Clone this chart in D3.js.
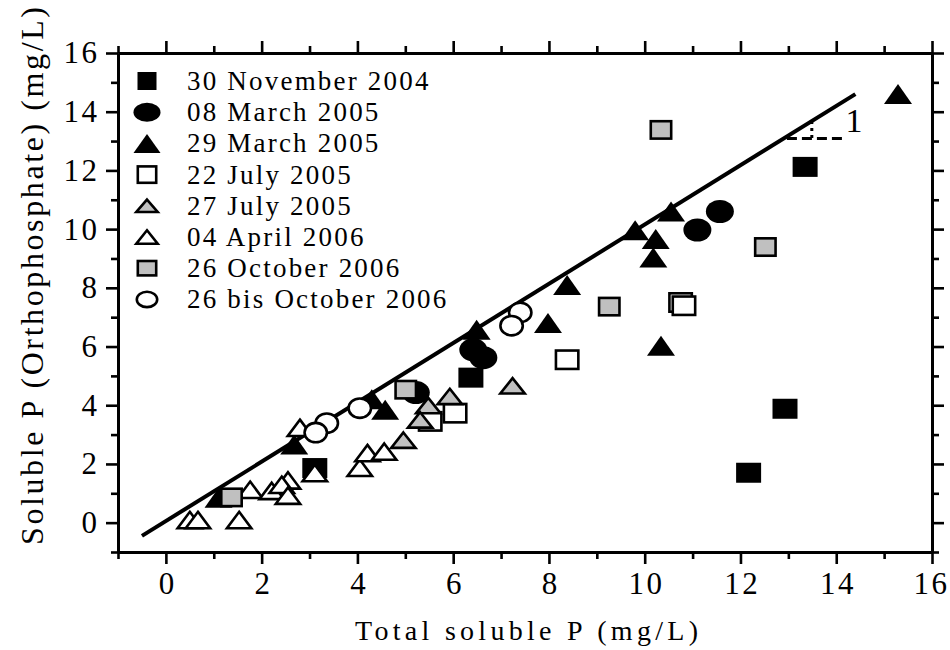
<!DOCTYPE html>
<html>
<head>
<meta charset="utf-8">
<script src="https://cdn.jsdelivr.net/npm/d3@7"></script>
<style>
  html, body { margin: 0; padding: 0; background: #fff; }
  svg { display: block; }
  text { font-family: "Liberation Serif", "Times New Roman", serif; fill: #000; }
</style>
</head>
<body>
<svg id="chart" width="950" height="650"></svg>
<script>
// ---------- data ----------
const seriesNames = ["30 November 2004", "08 March 2005", "29 March 2005", "22 July 2005",
                     "27 July 2005", "04 April 2006", "26 October 2006", "26 bis October 2006"];

const nov2004X = [13.35, 12.93, 12.17, 6.37, 3.11];
const nov2004Y = [12.12, 3.88, 1.70, 4.94, 1.86];

const mar08X = [11.57, 11.10, 6.42, 6.63, 5.22];
const mar08Y = [10.60, 9.97, 5.89, 5.62, 4.43];

const mar29X = [15.29, 10.55, 9.80, 10.23, 10.18, 10.34, 8.38, 7.98, 6.49, 4.58, 4.30, 2.68, 1.10];
const mar29Y = [14.60, 10.60, 9.96, 9.66, 9.03, 6.03, 8.10, 6.80, 6.57, 3.85, 4.20, 2.66, 0.85];

const jul22X = [10.75, 10.82, 8.38, 6.04, 5.52];
const jul22Y = [7.50, 7.39, 5.55, 3.73, 3.45];

const jul27X = [7.24, 5.93, 5.48, 5.31, 4.96];
const jul27Y = [4.66, 4.30, 3.99, 3.50, 2.81];

const apr2006X = [0.50, 0.67, 1.53, 1.76, 2.21, 2.55, 2.42, 2.55, 3.11, 2.80, 4.05, 4.21, 4.56];
const apr2006Y = [0.09, 0.09, 0.09, 1.12, 1.08, 1.44, 1.29, 0.92, 1.69, 3.23, 1.87, 2.37, 2.42];

const oct26X = [10.34, 12.52, 9.26, 5.01, 1.37];
const oct26Y = [13.38, 9.39, 7.36, 4.53, 0.86];

const oct26bisX = [7.40, 7.22, 4.05, 3.36, 3.13];
const oct26bisY = [7.16, 6.71, 3.90, 3.39, 3.07];

const fitLineX = [-0.5, 14.4];
const fitLineY = [-0.45, 14.6];

const slopeRunX = [12.97, 14.19];
const slopeRunY = 13.09;
const slopeRiseX = 13.49;
const slopeRiseY = [13.1, 13.66];
const slopeLabel = "1";
const slopeLabelPos = [14.37, 13.31];

const xTicks = [0, 2, 4, 6, 8, 10, 12, 14, 16];
const yTicks = [0, 2, 4, 6, 8, 10, 12, 14, 16];
const minorTicks = [-1, 1, 3, 5, 7, 9, 11, 13, 15];
const xTitle = "Total soluble P (mg/L)";
const yTitle = "Soluble P (Orthophosphate) (mg/L)";

// ---------- styles ----------
const GRAY = "#c0c0c0";
const styles = [
  { shape: "square",   fill: "#000", stroke: null, w: 25, h: 20, lw: 19, lh: 18 },
  { shape: "circle",   fill: "#000", stroke: null, w: 28, h: 23, lw: 27, lh: 19 },
  { shape: "triangle", fill: "#000", stroke: null, w: 28, h: 20, lw: 27, lh: 19 },
  { shape: "square",   fill: "#fff", stroke: "#000", w: 25, h: 21, lw: 21, lh: 19 },
  { shape: "triangle", fill: GRAY,   stroke: "#000", w: 27, h: 18, lw: 24, lh: 15 },
  { shape: "triangle", fill: "#fff", stroke: "#000", w: 27, h: 19, lw: 24, lh: 16 },
  { shape: "square",   fill: GRAY,   stroke: "#000", w: 23, h: 20, lw: 21, lh: 17 },
  { shape: "circle",   fill: "#fff", stroke: "#000", w: 25, h: 22, lw: 23, lh: 18 }
];
const seriesX = [nov2004X, mar08X, mar29X, jul22X, jul27X, apr2006X, oct26X, oct26bisX];
const seriesY = [nov2004Y, mar08Y, mar29Y, jul22Y, jul27Y, apr2006Y, oct26Y, oct26bisY];

// ---------- layout ----------
const svg = d3.select("#chart");
const x = d3.scaleLinear().domain([-1, 16]).range([118, 932]);
const y = d3.scaleLinear().domain([-1, 16]).range([552, 53]);

function marker(g, st, w, h) {
  const sw = st.stroke ? 2.6 : 0;
  const ww = w - sw, hh = h - sw;
  let el;
  if (st.shape === "square") {
    el = g.append("rect").attr("x", -ww / 2).attr("y", -hh / 2).attr("width", ww).attr("height", hh);
  } else if (st.shape === "circle") {
    el = g.append("ellipse").attr("rx", ww / 2).attr("ry", hh / 2);
  } else {
    el = g.append("path").attr("d", `M0,${-hh / 2}L${ww / 2},${hh / 2}L${-ww / 2},${hh / 2}Z`);
  }
  el.attr("fill", st.fill);
  if (st.stroke) el.attr("stroke", st.stroke).attr("stroke-width", sw).attr("stroke-linejoin", "miter");
}

// axes
const FS = 31, LS = 2.5;
function styleAxis(g) {
  g.selectAll("path.domain").attr("stroke", "#000").attr("stroke-width", 3);
  g.selectAll(".tick line").attr("stroke", "#000").attr("stroke-width", 2.6);
  g.selectAll("text").attr("font-family", "Liberation Serif").attr("font-size", FS)
    .style("letter-spacing", LS + "px");
}
const fmt = d3.format("d");
// bottom
svg.append("g").attr("transform", "translate(0,552)")
  .call(d3.axisBottom(x).tickValues(xTicks).tickFormat(fmt).tickSize(12).tickPadding(8).tickSizeOuter(0))
  .call(styleAxis)
  .call(g => g.selectAll("text").attr("dx", d => d === 16 ? -1 : LS / 2));
svg.append("g").attr("transform", "translate(0,552)")
  .call(d3.axisBottom(x).tickValues(minorTicks).tickFormat("").tickSize(7).tickSizeOuter(0)).call(styleAxis);
// top
svg.append("g").attr("transform", "translate(0,53)")
  .call(d3.axisTop(x).tickValues(xTicks).tickFormat("").tickSize(12).tickSizeOuter(0)).call(styleAxis);
svg.append("g").attr("transform", "translate(0,53)")
  .call(d3.axisTop(x).tickValues(minorTicks).tickFormat("").tickSize(7).tickSizeOuter(0)).call(styleAxis);
// left
svg.append("g").attr("transform", "translate(118,0)")
  .call(d3.axisLeft(y).tickValues(yTicks).tickFormat(fmt).tickSize(12).tickPadding(9 - LS).tickSizeOuter(0))
  .call(styleAxis);
svg.append("g").attr("transform", "translate(118,0)")
  .call(d3.axisLeft(y).tickValues(minorTicks).tickFormat("").tickSize(7).tickSizeOuter(0)).call(styleAxis);
// right
svg.append("g").attr("transform", "translate(932,0)")
  .call(d3.axisRight(y).tickValues(yTicks).tickFormat("").tickSize(12).tickSizeOuter(0)).call(styleAxis);
svg.append("g").attr("transform", "translate(932,0)")
  .call(d3.axisRight(y).tickValues(minorTicks).tickFormat("").tickSize(7).tickSizeOuter(0)).call(styleAxis);

// fit line
svg.append("line")
  .attr("x1", x(fitLineX[0])).attr("y1", y(fitLineY[0]))
  .attr("x2", x(fitLineX[1])).attr("y2", y(fitLineY[1]))
  .attr("stroke", "#000").attr("stroke-width", 4);

// slope triangle
svg.append("line")
  .attr("x1", x(slopeRunX[0])).attr("x2", x(slopeRunX[1]))
  .attr("y1", y(slopeRunY)).attr("y2", y(slopeRunY))
  .attr("stroke", "#000").attr("stroke-width", 3).attr("stroke-dasharray", "10,5");
svg.append("line")
  .attr("x1", x(slopeRiseX)).attr("x2", x(slopeRiseX))
  .attr("y1", y(slopeRiseY[0])).attr("y2", y(slopeRiseY[1]))
  .attr("stroke", "#000").attr("stroke-width", 3).attr("stroke-dasharray", "3,4");
svg.append("text").attr("x", x(slopeLabelPos[0])).attr("y", y(slopeLabelPos[1]))
  .attr("text-anchor", "middle").attr("font-size", 34).text(slopeLabel);

// points
seriesX.forEach((xs, i) => {
  const st = styles[i];
  const g = svg.append("g");
  xs.forEach((xv, j) => {
    const m = g.append("g").attr("transform", `translate(${x(xv)},${y(seriesY[i][j])})`);
    marker(m, st, st.w, st.h);
  });
});

// legend
const leg = svg.append("g");
seriesNames.forEach((name, i) => {
  const cy = 81 + i * 31.2;
  const st = styles[i];
  const m = leg.append("g").attr("transform", `translate(147,${cy})`);
  marker(m, st, st.lw, st.lh);
  leg.append("text").attr("x", 187).attr("y", cy + 9)
    .attr("font-size", 27).style("letter-spacing", "2.2px").text(name);
});

// titles
svg.append("text").attr("x", 526.5).attr("y", 640).attr("text-anchor", "middle")
  .attr("font-size", 28).attr("textLength", 343).attr("lengthAdjust", "spacing").text(xTitle);
svg.append("text").attr("transform", "translate(43,276) rotate(-90)").attr("text-anchor", "middle")
  .attr("font-size", 32).attr("textLength", 538).attr("lengthAdjust", "spacing").text(yTitle);
</script>
</body>
</html>
